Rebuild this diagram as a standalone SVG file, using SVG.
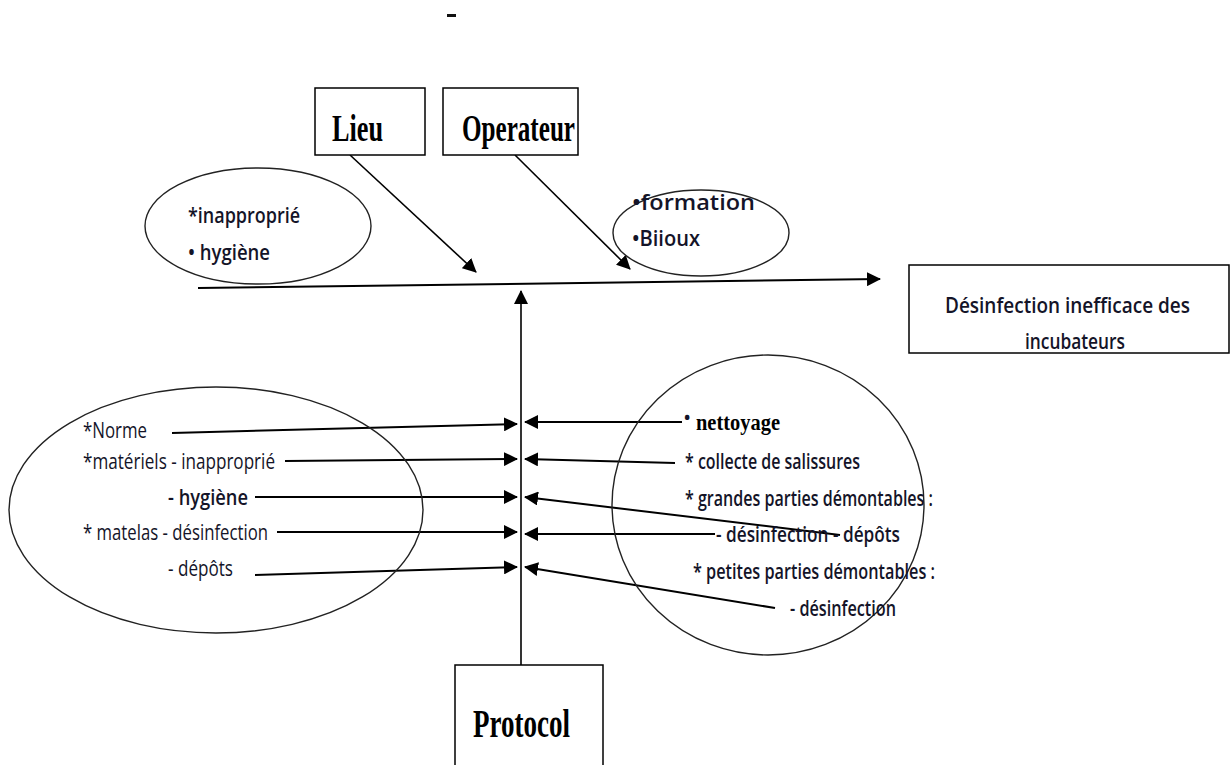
<svg xmlns="http://www.w3.org/2000/svg" width="1231" height="765" viewBox="0 0 1231 765">
  <style>
    .box { fill: #fff; stroke: #000; stroke-width: 1.5; }
    .ell { fill: none; stroke: #222; stroke-width: 1.4; }
    .ln { stroke: #000; stroke-width: 2; fill: none; }
    .thin { stroke: #000; stroke-width: 1.6; fill: none; }
    .serif { font-family: "Liberation Serif", "Times New Roman", serif; font-weight: bold; fill: #000; }
    .sans { font-family: "Open Sans", "Liberation Sans", Arial, sans-serif; fill: #141428; font-size: 22px; }
    .sb { font-weight: 600; }
  </style>
  <defs>
    <marker id="ah" viewBox="0 0 14 14" refX="13" refY="7" markerWidth="14" markerHeight="14" markerUnits="userSpaceOnUse" orient="auto">
      <path d="M0,0 L14,7 L0,14 z" fill="#000"/>
    </marker>
  </defs>

  <!-- stray dash at top -->
  <rect x="447" y="14" width="9" height="3" fill="#111"/>

  <!-- connectors -->
  <g id="connectors">
    <line class="ln" x1="198" y1="288" x2="880" y2="279" marker-end="url(#ah)"/>
    <line class="thin" x1="350" y1="155" x2="476" y2="272" marker-end="url(#ah)"/>
    <line class="thin" x1="515" y1="155" x2="630" y2="269" marker-end="url(#ah)"/>
    <line class="thin" x1="521" y1="665" x2="521" y2="291" marker-end="url(#ah)"/>
    <!-- left branches -->
    <line class="ln" x1="172" y1="433" x2="517" y2="424" marker-end="url(#ah)"/>
    <line class="ln" x1="285" y1="461" x2="517" y2="459" marker-end="url(#ah)"/>
    <line class="ln" x1="255" y1="497" x2="517" y2="497" marker-end="url(#ah)"/>
    <line class="ln" x1="277" y1="532" x2="517" y2="532" marker-end="url(#ah)"/>
    <line class="ln" x1="255" y1="575" x2="517" y2="567" marker-end="url(#ah)"/>
    <!-- right branches -->
    <line class="ln" x1="682" y1="422" x2="525" y2="422" marker-end="url(#ah)"/>
    <line class="ln" x1="675" y1="463" x2="525" y2="459" marker-end="url(#ah)"/>
    <line class="ln" x1="840" y1="535" x2="525" y2="497" marker-end="url(#ah)"/>
    <line class="ln" x1="715" y1="534" x2="525" y2="534" marker-end="url(#ah)"/>
    <line class="ln" x1="775" y1="608" x2="525" y2="567" marker-end="url(#ah)"/>
  </g>

  <g id="lieu">
    <rect class="box" x="315" y="88" width="110" height="67"/>
    <text class="serif" x="332" y="141" font-size="38" textLength="51" lengthAdjust="spacingAndGlyphs">Lieu</text>
  </g>

  <g id="operateur">
    <rect class="box" x="443" y="88" width="135" height="67"/>
    <text class="serif" x="462" y="141" font-size="38" textLength="113" lengthAdjust="spacingAndGlyphs">Operateur</text>
  </g>

  <g id="lieu-causes">
    <ellipse class="ell" cx="258" cy="226" rx="113" ry="58"/>
    <text class="sans sb" x="188" y="223" textLength="112" lengthAdjust="spacingAndGlyphs">*inapproprié</text>
    <text class="sans sb" x="188" y="260" textLength="82" lengthAdjust="spacingAndGlyphs">• hygiène</text>
  </g>

  <g id="operateur-causes">
    <ellipse class="ell" cx="701" cy="233" rx="88" ry="43"/>
    <text class="sans sb" x="632" y="210" textLength="123" lengthAdjust="spacingAndGlyphs">•formation</text>
    <text class="sans sb" x="632" y="246" textLength="68" lengthAdjust="spacingAndGlyphs">•Biioux</text>
  </g>

  <g id="materiel-causes">
    <ellipse class="ell" cx="216" cy="510" rx="207" ry="123"/>
    <text class="sans" x="83" y="438" textLength="64" lengthAdjust="spacingAndGlyphs">*Norme</text>
    <text class="sans" x="83" y="469" textLength="192" lengthAdjust="spacingAndGlyphs">*matériels - inapproprié</text>
    <text class="sans sb" x="168" y="505" textLength="80" lengthAdjust="spacingAndGlyphs">-  hygiène</text>
    <text class="sans" x="83" y="540" textLength="185" lengthAdjust="spacingAndGlyphs">* matelas - désinfection</text>
    <text class="sans" x="168" y="576" textLength="65" lengthAdjust="spacingAndGlyphs">- dépôts</text>
  </g>

  <g id="methode-causes">
    <ellipse class="ell" cx="768" cy="505" rx="156" ry="150"/>
    <text class="sans" x="683" y="425" font-size="16">•</text>
    <text class="serif" x="696" y="430" font-size="24" textLength="84" lengthAdjust="spacingAndGlyphs">nettoyage</text>
    <text class="sans sb" x="685" y="469" textLength="175" lengthAdjust="spacingAndGlyphs">* collecte de salissures</text>
    <text class="sans sb" x="685" y="506" textLength="248" lengthAdjust="spacingAndGlyphs">* grandes parties démontables :</text>
    <text class="sans sb" x="716" y="542" textLength="184" lengthAdjust="spacingAndGlyphs">- désinfection  - dépôts</text>
    <text class="sans sb" x="693" y="579" textLength="242" lengthAdjust="spacingAndGlyphs">* petites parties démontables :</text>
    <text class="sans sb" x="790" y="616" textLength="106" lengthAdjust="spacingAndGlyphs">- désinfection</text>
  </g>

  <g id="effet">
    <rect class="box" x="909" y="265" width="320" height="88"/>
    <text class="sans sb" x="945" y="313" font-size="26" textLength="245" lengthAdjust="spacingAndGlyphs">Désinfection inefficace des</text>
    <text class="sans sb" x="1025" y="349" font-size="26" textLength="100" lengthAdjust="spacingAndGlyphs">incubateurs</text>
  </g>

  <g id="protocol">
    <rect class="box" x="455" y="665" width="148" height="110"/>
    <text class="serif" x="473" y="737" font-size="40" textLength="97" lengthAdjust="spacingAndGlyphs">Protocol</text>
  </g>
</svg>
